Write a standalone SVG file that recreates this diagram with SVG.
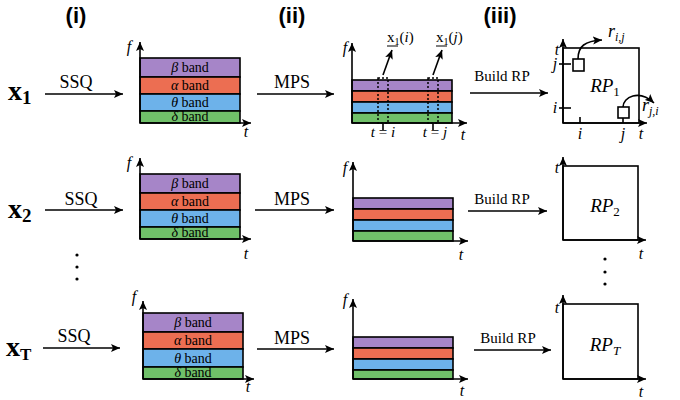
<svg xmlns="http://www.w3.org/2000/svg" width="680" height="400" viewBox="0 0 680 400">
<defs>
<marker id="ah" markerUnits="userSpaceOnUse" markerWidth="10" markerHeight="8" refX="9" refY="4" orient="auto">
<path d="M0,0 L9,4 L0,8 L2,4 z" fill="#000"/>
</marker>
</defs>
<style>
.ln{stroke:#000;stroke-width:1.6;fill:none}
.ar{stroke:#000;stroke-width:1.6;fill:none;marker-end:url(#ah)}
.bx{stroke:#000;stroke-width:1.6}
.pu{fill:#a685c8}.rd{fill:#ec6e52}.bl{fill:#6db2ea}.gr{fill:#70c069}
.m{font-family:"Liberation Serif","DejaVu Serif",serif;fill:#000}
.it{font-style:italic}
.hd{font-family:"Liberation Sans",Arial,sans-serif;font-weight:bold;font-size:22px;text-anchor:middle}
.bt{font-size:14px;text-anchor:middle}
.ax{font-size:16px;text-anchor:middle}
.op{font-size:18px;text-anchor:middle}
.br{font-size:15px;text-anchor:middle}
.rp{font-size:19px;text-anchor:middle}
.xv{font-size:28px;font-weight:bold}
.dt{fill:#000}
</style>

<text class="hd" x="76" y="23">(i)</text>
<text class="hd" x="292" y="23">(ii)</text>
<text class="hd" x="500" y="23">(iii)</text>

<g id="x1"><text class="m xv" x="8" y="100">x<tspan font-size="19" dy="4">1</tspan></text></g>
<g id="x2"><text class="m xv" x="8" y="218">x<tspan font-size="19" dy="4">2</tspan></text></g>
<g id="xT"><text class="m xv" x="6" y="356">x<tspan font-size="17" dy="4">T</tspan></text></g>

<g id="vdots-left">
<circle class="dt" cx="77" cy="255" r="1.6"/><circle class="dt" cx="77" cy="267" r="1.6"/><circle class="dt" cx="77" cy="279" r="1.6"/>
</g>
<g id="vdots-right">
<circle class="dt" cx="605" cy="259" r="1.6"/><circle class="dt" cx="605" cy="272" r="1.6"/><circle class="dt" cx="605" cy="284" r="1.6"/>
</g>

<!-- spectrogram nodes -->
<g id="ssq1" transform="translate(140,58)">
<rect class="pu bx" x="0" y="0" width="100" height="19"/>
<rect class="rd bx" x="0" y="19" width="100" height="17"/>
<rect class="bl bx" x="0" y="36" width="100" height="17"/>
<rect class="gr bx" x="0" y="53" width="100" height="12"/>
<line class="ar" x1="0" y1="65" x2="0" y2="-16"/>
<line class="ar" x1="0" y1="65" x2="111" y2="65"/>
<text class="m it ax" x="-11" y="-6">f</text>
<text class="m it ax" x="106" y="79">t</text>
<text class="m bt" fill="#553876" x="50" y="14"><tspan class="it">β</tspan> band</text>
<text class="m bt" fill="#7e2612" x="50" y="32"><tspan class="it">α</tspan> band</text>
<text class="m bt" fill="#1d3a6e" x="50" y="49"><tspan class="it">θ</tspan> band</text>
<text class="m bt" fill="#1c5219" x="50" y="63"><tspan class="it">δ</tspan> band</text>
</g>
<g id="ssq2" transform="translate(140,174)">
<rect class="pu bx" x="0" y="0" width="100" height="19"/>
<rect class="rd bx" x="0" y="19" width="100" height="17"/>
<rect class="bl bx" x="0" y="36" width="100" height="17"/>
<rect class="gr bx" x="0" y="53" width="100" height="12"/>
<line class="ar" x1="0" y1="65" x2="0" y2="-16"/>
<line class="ar" x1="0" y1="65" x2="111" y2="65"/>
<text class="m it ax" x="-11" y="-6">f</text>
<text class="m it ax" x="106" y="85">t</text>
<text class="m bt" fill="#553876" x="50" y="14"><tspan class="it">β</tspan> band</text>
<text class="m bt" fill="#7e2612" x="50" y="32"><tspan class="it">α</tspan> band</text>
<text class="m bt" fill="#1d3a6e" x="50" y="49"><tspan class="it">θ</tspan> band</text>
<text class="m bt" fill="#1c5219" x="50" y="63"><tspan class="it">δ</tspan> band</text>
</g>
<g id="ssqT" transform="translate(143,313)">
<rect class="pu bx" x="0" y="0" width="100" height="19"/>
<rect class="rd bx" x="0" y="19" width="100" height="17"/>
<rect class="bl bx" x="0" y="36" width="100" height="18"/>
<rect class="gr bx" x="0" y="54" width="100" height="12"/>
<line class="ar" x1="0" y1="66" x2="0" y2="-12"/>
<line class="ar" x1="0" y1="66" x2="111" y2="66"/>
<text class="m it ax" x="-9" y="-11">f</text>
<text class="m it ax" x="105" y="79">t</text>
<text class="m bt" fill="#553876" x="50" y="14"><tspan class="it">β</tspan> band</text>
<text class="m bt" fill="#7e2612" x="50" y="32"><tspan class="it">α</tspan> band</text>
<text class="m bt" fill="#1d3a6e" x="50" y="50"><tspan class="it">θ</tspan> band</text>
<text class="m bt" fill="#1c5219" x="50" y="64"><tspan class="it">δ</tspan> band</text>
</g>

<!-- MPS nodes -->
<g id="mps1" transform="translate(352,80)">
<rect class="pu bx" x="0" y="0" width="100" height="11"/>
<rect class="rd bx" x="0" y="11" width="100" height="11"/>
<rect class="bl bx" x="0" y="22" width="100" height="11"/>
<rect class="gr bx" x="0" y="33" width="100" height="10"/>
<line class="ar" x1="0" y1="43" x2="0" y2="-37"/>
<line class="ar" x1="0" y1="43" x2="115" y2="43"/>
<text class="m it ax" x="-7" y="-27">f</text>
<text class="m it ax" x="111" y="60">t</text>
<rect x="26" y="-2" width="10" height="45" fill="none" stroke="#000" stroke-width="1.5" stroke-dasharray="2,2"/>
<rect x="76" y="-2" width="10" height="45" fill="none" stroke="#000" stroke-width="1.5" stroke-dasharray="2,2"/>
<line class="ln" x1="31" y1="43" x2="31" y2="50"/>
<line class="ln" x1="81" y1="43" x2="81" y2="50"/>
<line class="ar" x1="31" y1="-5" x2="40" y2="-30"/>
<line class="ar" x1="81" y1="-5" x2="90" y2="-30"/>
<text class="m" font-size="15" x="35" y="-38">x<tspan font-size="10" dy="3">1</tspan><tspan dy="-3">(</tspan><tspan class="it">i</tspan>)</text>
<line x1="35" y1="-34" x2="46" y2="-34" stroke="#000" stroke-width="1"/>
<text class="m" font-size="15" x="84" y="-38">x<tspan font-size="10" dy="3">1</tspan><tspan dy="-3">(</tspan><tspan class="it">j</tspan>)</text>
<line x1="84" y1="-34" x2="95" y2="-34" stroke="#000" stroke-width="1"/>
<text class="m" font-size="15" x="31" y="57" text-anchor="middle"><tspan class="it">t</tspan> = <tspan class="it">i</tspan></text>
<text class="m" font-size="15" x="83" y="57" text-anchor="middle"><tspan class="it">t</tspan> = <tspan class="it">j</tspan></text>
</g>
<g id="mps2" transform="translate(353,198)">
<rect class="pu bx" x="0" y="0" width="100" height="11"/>
<rect class="rd bx" x="0" y="11" width="100" height="11"/>
<rect class="bl bx" x="0" y="22" width="100" height="11"/>
<rect class="gr bx" x="0" y="33" width="100" height="10"/>
<line class="ar" x1="0" y1="43" x2="0" y2="-36"/>
<line class="ar" x1="0" y1="43" x2="115" y2="43"/>
<text class="m it ax" x="-8" y="-25">f</text>
<text class="m it ax" x="108" y="62">t</text>
</g>
<g id="mpsT" transform="translate(353,337)">
<rect class="pu bx" x="0" y="0" width="100" height="11"/>
<rect class="rd bx" x="0" y="11" width="100" height="11"/>
<rect class="bl bx" x="0" y="22" width="100" height="11"/>
<rect class="gr bx" x="0" y="33" width="100" height="9"/>
<line class="ar" x1="0" y1="42" x2="0" y2="-38"/>
<line class="ar" x1="0" y1="42" x2="115" y2="42"/>
<text class="m it ax" x="-8" y="-32">f</text>
<text class="m it ax" x="109" y="59">t</text>
</g>

<!-- RP nodes -->
<g id="rp1" transform="translate(563,48)">
<rect class="ln" x="0" y="0" width="76" height="75"/>
<line class="ar" x1="0" y1="75" x2="0" y2="-9"/>
<line class="ar" x1="0" y1="75" x2="84" y2="75"/>
<text class="m it ax" x="-6" y="7">t</text>
<text class="m it ax" x="78" y="91">t</text>
<line class="ln" x1="-4" y1="16" x2="8" y2="16"/>
<line class="ln" x1="-4" y1="60" x2="8" y2="60"/>
<text class="m it ax" x="-8" y="21">j</text>
<text class="m it ax" x="-8" y="65">i</text>
<line class="ln" x1="17" y1="69" x2="17" y2="75"/>
<line class="ln" x1="60" y1="70" x2="60" y2="75"/>
<text class="m it ax" x="17" y="91">i</text>
<text class="m it ax" x="60" y="91">j</text>
<rect class="ln" x="10" y="11" width="11" height="12"/>
<rect class="ln" x="55" y="59" width="11" height="11"/>
<path class="ar" d="M15,11 C15,-2 22,-7 39,-8"/>
<path class="ar" d="M60,59 C60,49 76,41 91,55"/>
<text class="m it" font-size="18" x="45" y="-11">r<tspan font-size="12" dy="4">i,j</tspan></text>
<text class="m it" font-size="18" x="79" y="63">r<tspan font-size="12" dy="4">j,i</tspan></text>
<text class="m rp" x="42" y="44"><tspan class="it">RP</tspan><tspan font-size="13" dy="4">1</tspan></text>
</g>
<g id="rp2" transform="translate(563,166)">
<rect class="ln" x="0" y="0" width="75" height="74"/>
<line class="ar" x1="0" y1="74" x2="0" y2="-9"/>
<line class="ar" x1="0" y1="74" x2="83" y2="74"/>
<text class="m it ax" x="-6" y="7">t</text>
<text class="m it ax" x="78" y="93">t</text>
<text class="m rp" x="42" y="46"><tspan class="it">RP</tspan><tspan font-size="13" dy="4">2</tspan></text>
</g>
<g id="rpT" transform="translate(563,304)">
<rect class="ln" x="0" y="0" width="75" height="75"/>
<line class="ar" x1="0" y1="75" x2="0" y2="-9"/>
<line class="ar" x1="0" y1="75" x2="83" y2="75"/>
<text class="m it ax" x="-6" y="9">t</text>
<text class="m it ax" x="78" y="93">t</text>
<text class="m rp" x="42" y="47"><tspan class="it">RP</tspan><tspan class="it" font-size="13" dy="4">T</tspan></text>
</g>

<!-- connectors -->
<g id="connectors">
<line class="ar" x1="45" y1="94" x2="123" y2="94"/>
<text class="m op" x="76" y="88">SSQ</text>
<line class="ar" x1="257" y1="94" x2="334" y2="94"/>
<text class="m op" x="292" y="88">MPS</text>
<line class="ar" x1="470" y1="93" x2="548" y2="93"/>
<text class="m br" x="502" y="81">Build RP</text>

<line class="ar" x1="45" y1="210" x2="123" y2="210"/>
<text class="m op" x="81" y="205">SSQ</text>
<line class="ar" x1="255" y1="210" x2="334" y2="210"/>
<text class="m op" x="292" y="205">MPS</text>
<line class="ar" x1="468" y1="211" x2="547" y2="211"/>
<text class="m br" x="502" y="204">Build RP</text>

<line class="ar" x1="43" y1="348" x2="120" y2="348"/>
<text class="m op" x="74" y="342">SSQ</text>
<line class="ar" x1="257" y1="349" x2="334" y2="349"/>
<text class="m op" x="292" y="344">MPS</text>
<line class="ar" x1="474" y1="350" x2="551" y2="350"/>
<text class="m br" x="508" y="343">Build RP</text>
</g>
</svg>
